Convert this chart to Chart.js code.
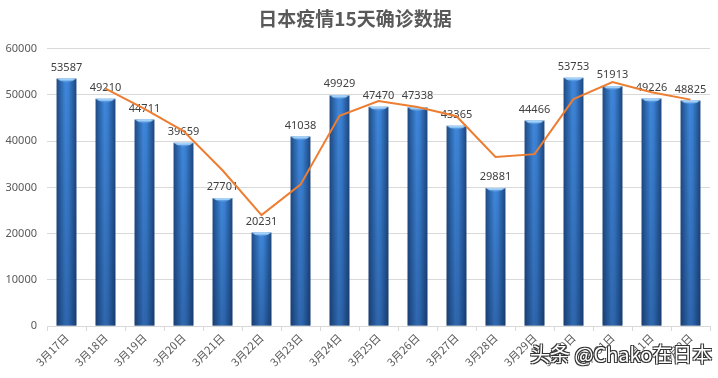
<!DOCTYPE html>
<html>
<head>
<meta charset="utf-8">
<script src="https://cdn.jsdelivr.net/npm/chart.js@4/dist/chart.umd.min.js"></script>
<style>
  body { margin: 0; background: #fff; }
  .wrap { position: relative; width: 718px; height: 378px; }
  .mark {
    position: absolute; left: 530px; top: 339px;
    font: 20px "Noto Sans CJK SC", sans-serif; color: #fff;
    text-shadow: -1px -1px 0 #333, 1px -1px 0 #333, -1px 1px 0 #333, 1px 1px 0 #333;
  }
</style>
</head>
<body>
<div class="wrap">
  <canvas id="canvas"></canvas>
  <div class="mark">头条 @Chako在日本</div>
</div>
<script>
/* data */
const days = ['3月17日','3月18日','3月19日','3月20日','3月21日','3月22日','3月23日','3月24日','3月25日',
              '3月26日','3月27日','3月28日','3月29日','3月30日','3月31日','4月1日','4月2日'];
const cases = [53587, 49210, 44711, 39659, 27701, 20231, 41038, 49929, 47470,
               47338, 43365, 29881, 44466, 53753, 51913, 49226, 48825];
// orange trend line
const trend = [null, 51400, 47000, 42200, 33700, 24000, 30600, 45500, 48700,
               47400, 45400, 36600, 37200, 49100, 52800, 50600, 49000];
const yTicks = [0, 10000, 20000, 30000, 40000, 50000, 60000];

const BAR_W = 20;

function barFill(ctx){
    const chart = ctx.chart;
    if(!chart.chartArea) return '#2e6cb5';
    const x = chart.scales.x.getPixelForValue(ctx.dataIndex);
    const g = chart.ctx.createLinearGradient(x - BAR_W/2, 0, x + BAR_W/2, 0);
    g.addColorStop(0, '#1e4a84');
    g.addColorStop(0.45, '#3f87da');
    g.addColorStop(0.6, '#3b81d4');
    g.addColorStop(1, '#1c467d');
    return g;
}

/* shading, top cap and value labels on bars */
const barDeco = {
    id: 'barDeco',
    afterDatasetDraw(chart, args){
        if(args.index !== 1) return;
        const c = chart.ctx;
        const bottom = chart.scales.y.getPixelForValue(0);
        args.meta.data.forEach(function(bar, i){
            const l = bar.x - bar.width/2, w = bar.width;
            // darken toward the bottom
            const g = c.createLinearGradient(0, bar.y, 0, bottom);
            g.addColorStop(0, 'rgba(10,30,70,0)');
            g.addColorStop(1, 'rgba(10,30,70,0.3)');
            c.fillStyle = g;
            c.fillRect(l, bar.y, w, bottom - bar.y);
            // light cap
            const cap = c.createLinearGradient(0, bar.y, 0, bar.y + 5);
            cap.addColorStop(0, '#a9d3fa');
            cap.addColorStop(1, 'rgba(90,160,235,0)');
            c.fillStyle = cap;
            c.beginPath();
            c.moveTo(l, bar.y);
            c.lineTo(l + w, bar.y);
            c.quadraticCurveTo(bar.x, bar.y + 8, l, bar.y);
            c.fill();
            c.fillStyle = 'rgba(170,215,250,0.8)';
            c.fillRect(l + 3, bar.y, w - 6, 2);
            // value label
            c.fillStyle = '#404040';
            c.font = '11px "Noto Sans", sans-serif';
            c.textAlign = 'center';
            c.textBaseline = 'middle';
            c.fillText(String(cases[i]), bar.x, bar.y - 11);
        });
    }
};

const ctx = document.getElementById('canvas');
new Chart(ctx, {
    data: {
        labels: days,
        datasets: [{
            type: 'line',
            label: '趋势',
            data: trend,
            borderColor: '#ed7d31',
            borderWidth: 2,
            pointRadius: 0,
            tension: 0,
            order: 0
        },
        {
            type: 'bar',
            label: '确诊',
            data: cases,
            backgroundColor: barFill,
            barPercentage: 0.51,
            categoryPercentage: 1,
            order: 1
        }]
    },
    options: {
        responsive: true,
        maintainAspectRatio: false,
        animation: false,
        layout: { padding: { left: 0, right: 8, top: 0, bottom: 0 } },
        plugins: {
            legend: { display: false },
            tooltip: { enabled: false },
            title: {
                display: true,
                text: '日本疫情15天确诊数据',
                color: '#595959',
                font: { family: '"Noto Sans CJK SC", sans-serif', size: 19, weight: 'bold' },
                padding: { top: 7, bottom: 19 }
            }
        },
        scales: {
            x: {
                grid: { offset: true, drawOnChartArea: false, drawTicks: true, tickLength: 5, color: '#d9d9d9' },
                border: { color: '#d9d9d9' },
                ticks: {
                    color: '#595959',
                    font: { family: '"Noto Sans CJK SC", sans-serif', size: 11 },
                    minRotation: 45, maxRotation: 45, padding: 0
                },
                afterFit(scale){ scale.height = 52; }
            },
            y: {
                min: 0, max: 60000,
                afterBuildTicks(scale){ scale.ticks = yTicks.map(v => ({ value: v })); },
                grid: { color: '#d9d9d9', drawTicks: false },
                border: { display: false },
                ticks: {
                    color: '#595959',
                    font: { family: '"Noto Sans", sans-serif', size: 11 },
                    padding: 10,
                    callback: v => String(v)
                },
                afterFit(scale){ scale.width = 47; }
            }
        }
    },
    plugins: [barDeco]
});
</script>
</body>
</html>
